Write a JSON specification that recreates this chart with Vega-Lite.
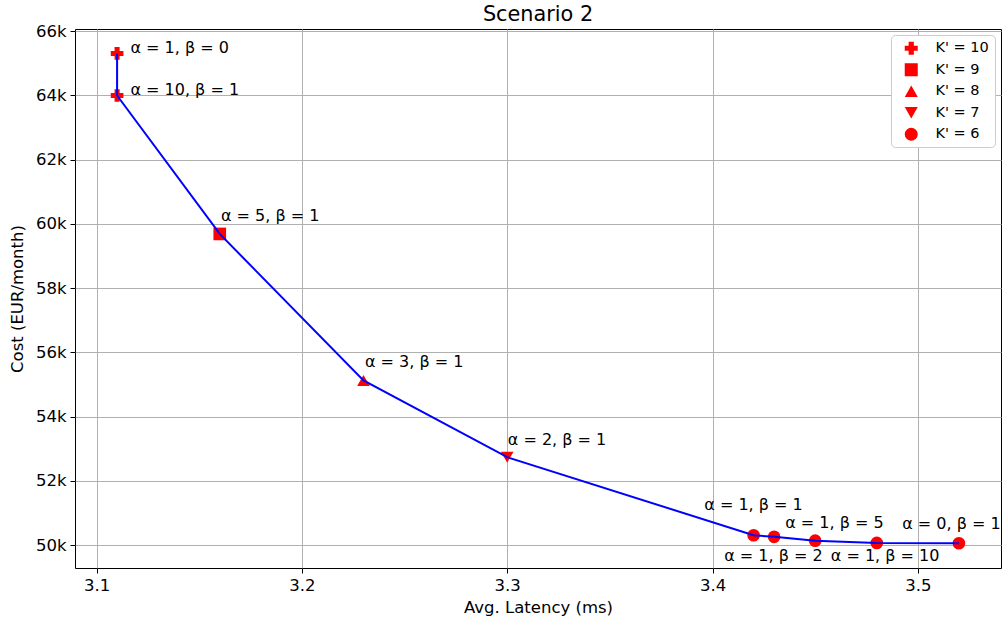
{
  "$schema": "https://vega.github.io/schema/vega-lite/v6.json",
  "width": 926,
  "height": 539,
  "autosize": {"type": "none"},
  "padding": {"left": 75, "top": 29, "right": 2, "bottom": 50},
  "background": "white",
  "title": {"text": "Scenario 2", "font": "DejaVu Sans", "fontSize": 20.8, "fontWeight": "normal", "color": "black", "anchor": "middle", "frame": "group", "baseline": "alphabetic", "offset": 6, "dy": 24.5},
  "config": {
    "view": {"stroke": "black", "strokeWidth": 1},
    "axis": {
      "labelFont": "DejaVu Sans", "labelFontSize": 16.5, "labelColor": "black",
      "titleFont": "DejaVu Sans", "titleFontSize": 16.5, "titleFontWeight": "normal", "titleColor": "black",
      "gridColor": "#b0b0b0", "gridWidth": 1, "gridOpacity": 1,
      "tickColor": "black", "tickSize": 5, "tickWidth": 1,
      "domain": false, "labelPadding": 4
    },
    "legend": {
      "labelFont": "DejaVu Sans", "labelFontSize": 14, "labelColor": "black"
    }
  },
  "data": {
    "values": [
      {"lat": 3.11, "cost": 65310, "K": "K' = 10", "label": "α = 1, β = 0", "lx": 3.1165, "ly": 65310},
      {"lat": 3.11, "cost": 64000, "K": "K' = 10", "label": "α = 10, β = 1", "lx": 3.1165, "ly": 64010},
      {"lat": 3.16, "cost": 59690, "K": "K' = 9", "label": "α = 5, β = 1", "lx": 3.1606, "ly": 60090},
      {"lat": 3.23, "cost": 55130, "K": "K' = 8", "label": "α = 3, β = 1", "lx": 3.2307, "ly": 55550},
      {"lat": 3.30, "cost": 52740, "K": "K' = 7", "label": "α = 2, β = 1", "lx": 3.3003, "ly": 53130},
      {"lat": 3.42, "cost": 50310, "K": "K' = 6", "label": "α = 1, β = 1", "lx": 3.3960, "ly": 51090},
      {"lat": 3.43, "cost": 50260, "K": "K' = 6", "label": "α = 1, β = 2", "lx": 3.4057, "ly": 49510},
      {"lat": 3.45, "cost": 50140, "K": "K' = 6", "label": "α = 1, β = 5", "lx": 3.4354, "ly": 50550},
      {"lat": 3.48, "cost": 50070, "K": "K' = 6", "label": "α = 1, β = 10", "lx": 3.4576, "ly": 49510},
      {"lat": 3.52, "cost": 50060, "K": "K' = 6", "label": "α = 0, β = 1", "lx": 3.4924, "ly": 50490}
    ]
  },
  "layer": [
    {
      "mark": {"type": "point", "filled": true, "color": "red", "opacity": 1, "size": 160},
      "encoding": {
        "x": {"field": "lat", "type": "quantitative", "scale": {"domain": [3.0895, 3.5405], "nice": false, "zero": false},
              "axis": {"title": "Avg. Latency (ms)", "values": [3.1, 3.2, 3.3, 3.4, 3.5], "format": ".1f", "titlePadding": 6}},
        "y": {"field": "cost", "type": "quantitative", "scale": {"domain": [49290, 66070], "nice": false, "zero": false},
              "axis": {"title": "Cost (EUR/month)", "values": [50000, 52000, 54000, 56000, 58000, 60000, 62000, 64000, 66000], "labelExpr": "format(datum.value/1000, 'd') + 'k'", "titlePadding": 10}},
        "shape": {"field": "K", "type": "nominal",
                  "scale": {"domain": ["K' = 10", "K' = 9", "K' = 8", "K' = 7", "K' = 6"], "range": ["cross", "square", "triangle-up", "triangle-down", "circle"]},
                  "legend": {"title": null, "orient": "top-right", "offset": 6, "symbolFillColor": "red", "symbolStrokeWidth": 0, "symbolSize": 170, "symbolOpacity": 1,
                             "strokeColor": "#cccccc", "fillColor": "white", "cornerRadius": 4, "padding": 6, "rowPadding": 6.5, "labelOffset": 17, "symbolOffset": 7, "labelFontSize": 14.5}}
      }
    },
    {
      "mark": {"type": "line", "color": "blue", "strokeWidth": 2},
      "encoding": {
        "x": {"field": "lat", "type": "quantitative"},
        "y": {"field": "cost", "type": "quantitative"},
        "order": {"field": "cost", "sort": "descending"}
      }
    },
    {
      "mark": {"type": "text", "align": "left", "baseline": "alphabetic", "font": "DejaVu Sans", "fontSize": 16, "color": "black"},
      "encoding": {
        "x": {"field": "lx", "type": "quantitative"},
        "y": {"field": "ly", "type": "quantitative"},
        "text": {"field": "label", "type": "nominal"}
      }
    }
  ]
}
